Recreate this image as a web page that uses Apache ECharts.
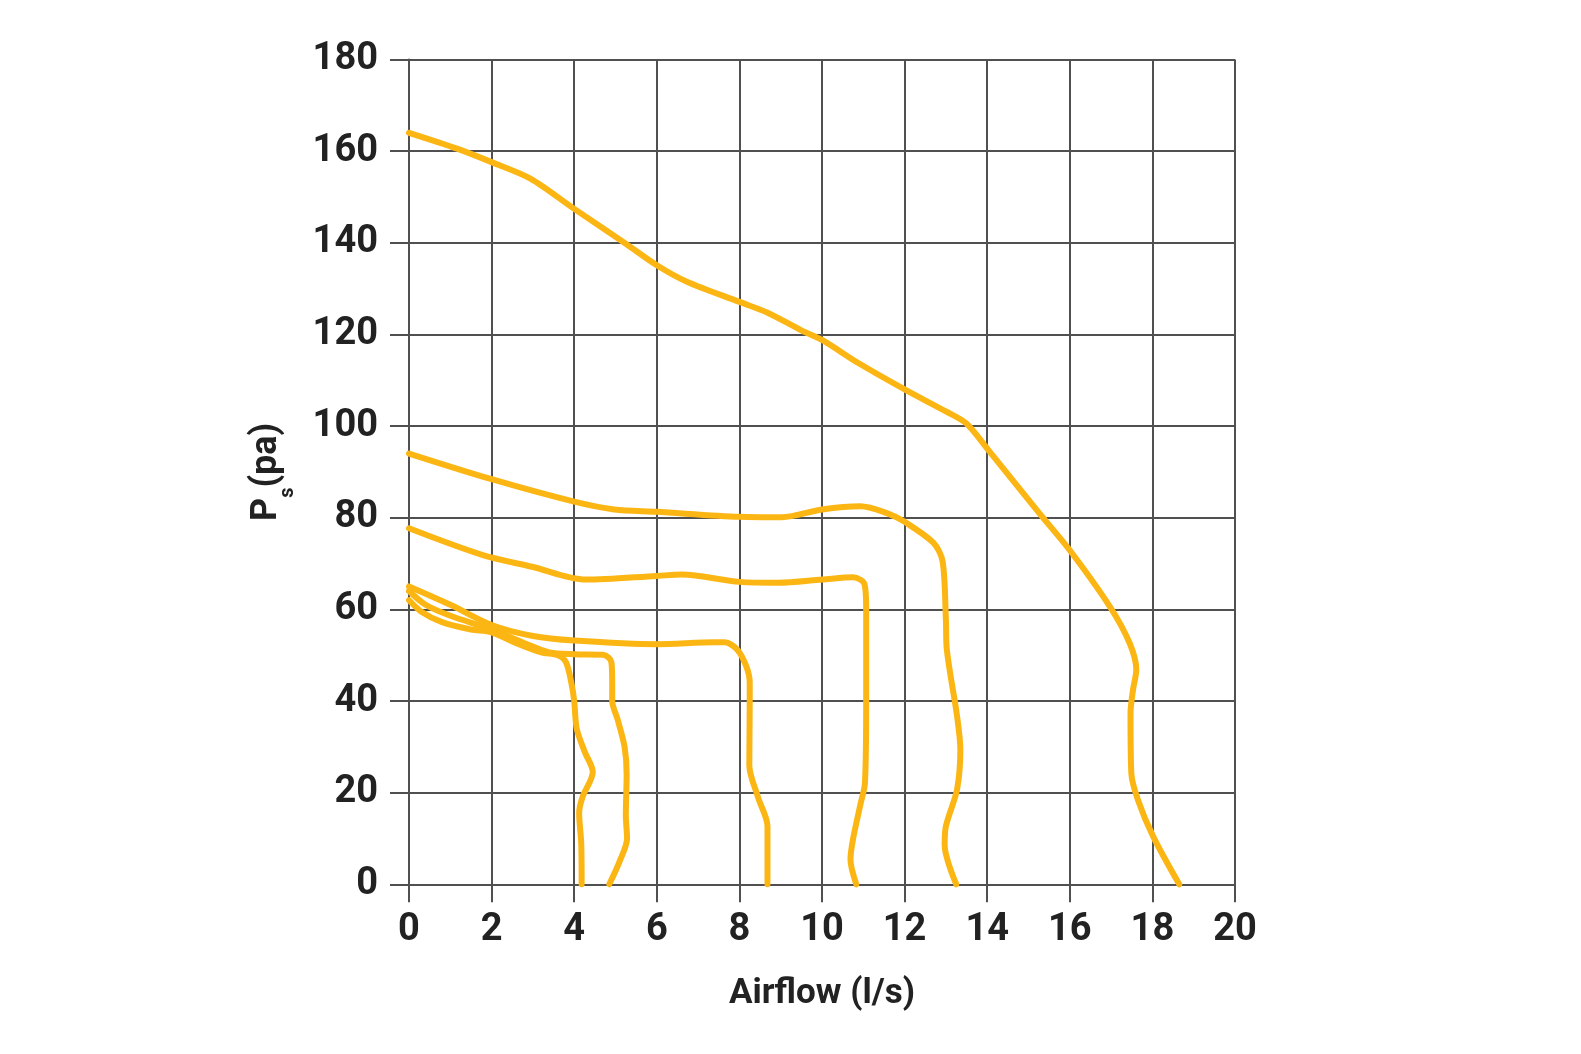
<!DOCTYPE html>
<html>
<head>
<meta charset="utf-8">
<script src="https://cdn.jsdelivr.net/npm/echarts@6/dist/echarts.min.js"></script>
<style>
html,body{margin:0;padding:0;background:#fff;}
#chart{width:1581px;height:1054px;}
</style>
</head>
<body>
<div id="chart"></div>
<script>
// Axis ticks
const xTicks = [0, 2, 4, 6, 8, 10, 12, 14, 16, 18, 20];
const yTicks = [0, 20, 40, 60, 80, 100, 120, 140, 160, 180];
const xAxisName = 'Airflow (l/s)';

// Fan curves: [airflow l/s, static pressure Pa]
const curve1 = [[0,62],[0.3,59.5],[0.8,57.2],[1.5,55.6],[2,55],[2.6,52.6],[3.2,50.6],[3.6,50],[3.8,48.5],[3.93,44],[4.0,40],[4.06,34],[4.25,29],[4.45,24.5],[4.2,19],[4.12,15.5],[4.17,9],[4.18,0]];
const curve2 = [[0,64],[0.4,61],[1,58.6],[2,55.6],[2.8,52.6],[3.4,50.6],[4,50.2],[4.7,50.1],[4.9,48.5],[4.92,44],[4.92,40],[5.05,36],[5.22,30],[5.27,24],[5.25,15],[5.28,10],[5.1,5],[4.85,0]];
const curve3 = [[0,65],[1,61],[2,56.6],[3,54.2],[4,53.2],[6,52.4],[7.4,52.8],[7.65,52.8],[7.95,51.2],[8.17,47.5],[8.25,44],[8.25,40],[8.24,26],[8.45,19],[8.68,12.7],[8.68,0]];
const curve4 = [[0,77.7],[1.77,71.9],[2.98,69.3],[4.28,66.5],[6,67.3],[6.61,67.6],[8,66.0],[8.94,65.8],[10,66.5],[10.76,67.0],[11.03,65.5],[11.07,59.9],[11.07,40.3],[11.04,22.1],[10.94,17.8],[10.75,9.8],[10.69,5.4],[10.83,0]];
const curve5 = [[0,94],[2,88.4],[4,83.5],[4.97,81.8],[6,81.3],[8,80.2],[9.03,80.1],[10,81.8],[10.93,82.5],[11.6,80.9],[12,79.1],[12.7,74.5],[12.92,70.5],[13.0,57.7],[13.02,51.5],[13.27,36.7],[13.35,29.4],[13.27,20.7],[13.0,12.7],[12.97,8.5],[13.25,0]];
const curve6 = [[0,164],[1.18,160.5],[2,157.6],[2.94,154],[4,147.4],[5.25,139.8],[6,135.1],[6.73,131.5],[8,127.1],[8.67,124.8],[9.5,120.9],[10,118.8],[10.89,113.7],[12,108],[13.0,103.2],[13.49,100.6],[14,95.1],[15.27,80.9],[16,72.9],[16.97,60.6],[17.45,52.6],[17.61,46.8],[17.53,42.4],[17.47,37.3],[17.49,24.2],[17.65,18.4],[18.02,10.4],[18.65,0]];
const curves = [curve1, curve2, curve3, curve4, curve5, curve6];

const gridColor = '#505050';
const lineColor = '#FBB614';
const fontFam = 'Roboto, "Noto Sans", sans-serif';

const chart = echarts.init(document.getElementById('chart'), null, {renderer: 'canvas'});
chart.setOption({
  backgroundColor: '#ffffff',
  animation: false,
  grid: {left: 409, right: 346, top: 59.5, bottom: 169.7, containLabel: false},
  xAxis: {
    type: 'value', min: xTicks[0], max: xTicks[xTicks.length - 1], interval: 2,
    name: xAxisName, nameLocation: 'middle', nameGap: 92,
    nameTextStyle: {fontFamily: fontFam, fontWeight: 'bold', fontSize: 35, color: '#222'},
    axisLine: {show: true, lineStyle: {color: gridColor, width: 2}},
    axisTick: {show: true, length: 18, lineStyle: {color: gridColor, width: 2}},
    axisLabel: {margin: 27, fontFamily: fontFam, fontWeight: 'bold', fontSize: 38, color: '#222'},
    splitLine: {show: true, lineStyle: {color: gridColor, width: 2}}
  },
  yAxis: {
    type: 'value', min: yTicks[0], max: yTicks[yTicks.length - 1], interval: 20,
    name: '{a|P}{b|s}{a|(pa)}', nameLocation: 'middle', nameGap: 111, nameRotate: 90,
    nameTextStyle: {
      color: '#222',
      rich: {
        a: {fontFamily: fontFam, fontWeight: 'bold', fontSize: 36, color: '#222', lineHeight: 40, verticalAlign: 'top'},
        b: {fontFamily: fontFam, fontWeight: 'bold', fontSize: 20, color: '#222', lineHeight: 49, verticalAlign: 'bottom'}
      }
    },
    axisLine: {show: true, lineStyle: {color: gridColor, width: 2}},
    axisTick: {show: true, length: 19, lineStyle: {color: gridColor, width: 2}},
    axisLabel: {margin: 31, fontFamily: fontFam, fontWeight: 'bold', fontSize: 38, color: '#222'},
    splitLine: {show: true, lineStyle: {color: gridColor, width: 2}}
  },
  series: curves.map(function (c) {
    return {
      type: 'line', data: c, smooth: 0.3, symbol: 'none', clip: false,
      lineStyle: {color: lineColor, width: 6, cap: 'round', join: 'round'}
    };
  })
});
</script>
</body>
</html>
